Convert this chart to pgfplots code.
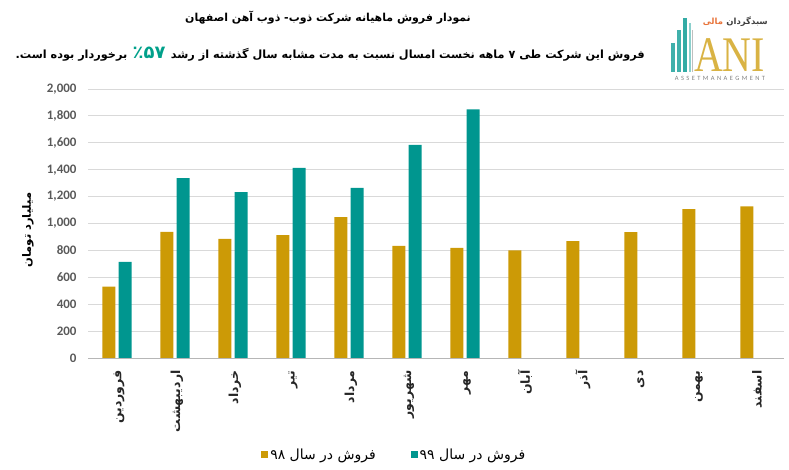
\documentclass[border=0pt]{standalone}
\usepackage{pgfplots}
\usepackage{pgfplotstable}
\pgfplotsset{compat=1.18}
\usepackage{fontspec}
\setmainfont{Carlito}
\TeXXeTstate=1
\newfontfamily\fa[Script=Arabic]{DejaVu Sans}
\newfontfamily\lserif{Liberation Serif}
\definecolor{gold}{HTML}{CC9A06}
\definecolor{teal99}{HTML}{00968F}
\definecolor{gridc}{HTML}{D9D9D9}
\definecolor{tickc}{HTML}{595959}
\definecolor{greenpct}{HTML}{00A08A}
\definecolor{logoor}{HTML}{E8743B}

\pgfplotstableread{
x y
0 530
1 937
2 885
3 914
4 1048
5 833
6 818
7 800
8 868
9 935
10 1106
11 1128
}\salesA

\pgfplotstableread{
x y
0 715
1 1338
2 1233
3 1413
4 1264
5 1584
6 1849
}\salesB

\begin{document}
\begin{tikzpicture}[x=1bp,y=1bp]
\path[use as bounding box] (0,0) rectangle (789,470);
\begin{axis}[
  at={(88bp,112bp)}, anchor=south west,
  scale only axis, width=696bp, height=269bp,
  xmin=-0.5, xmax=11.5, ymin=0, ymax=2000,
  ytick={0,200,...,2000},
  xtick={0,...,11},
  xticklabels={فروردین,اردیبهشت,خرداد,تیر,مرداد,شهریور,مهر,آبان,آذر,دی,بهمن,اسفند},
  ymajorgrids, grid style={gridc, line width=0.8bp},
  axis x line*=bottom, axis y line*=left,
  x axis line style={-, draw=gridc!80!black!90, line width=0.8bp},
  y axis line style={draw=none},
  major tick length=0pt, tick style={draw=none},
  /pgf/number format/1000 sep={,},
  /pgf/number format/assume math mode=true,
  yticklabel style={font=\fontsize{13}{15}\selectfont\bfseries, text=tickc, xshift=-8bp},
  xticklabel style={rotate=90, anchor=east, font=\fa\bfseries\fontsize{12.5}{14}\selectfont, text=black!85, xshift=-9bp, yshift=-2bp},
  legend style={at={(0.44,-0.36)}, anchor=center, draw=none, fill=none,
    legend columns=2, font=\fa\fontsize{14}{16}\selectfont,
    /tikz/every even column/.append style={column sep=33bp}},
]
\addplot[ybar, bar width=0.225, bar shift=-0.14, fill=gold, draw=none,
  legend image code/.code={\fill[gold] (0bp,-3.5bp) rectangle (7bp,3.5bp);}] table {\salesA};
\addlegendentry{\beginR فروش در سال ۹۸\endR}
\addplot[ybar, bar width=0.225, bar shift=0.14, fill=teal99, draw=none,
  legend image code/.code={\fill[teal99] (0bp,-3.5bp) rectangle (7bp,3.5bp);}] table {\salesB};
\addlegendentry{\beginR فروش در سال ۹۹\endR}
\end{axis}

% y label
\node[rotate=90, font=\fa\bfseries\fontsize{11.5}{13}\selectfont] at (28,240) {\beginR میلیارد تومان\endR};

% titles
\node[font=\fa\bfseries\fontsize{11}{13}\selectfont] at (328,452) {\beginR نمودار فروش ماهیانه شرکت ذوب- ذوب آهن  اصفهان\endR};
\node[anchor=base east, inner sep=0, font=\fa\bfseries\fontsize{11.3}{13}\selectfont] (tA) at (645,411) {\beginR فروش این شرکت طی ۷ ماهه نخست امسال نسبت به مدت مشابه سال گذشته از رشد\endR};
\node[anchor=base east, inner sep=0, text=greenpct, font=\fa\bfseries\fontsize{18}{20}\selectfont] (tB) at ([xshift=-5bp]tA.base west) {٪۵۷};
\node[anchor=base east, inner sep=0, font=\fa\bfseries\fontsize{11.3}{13}\selectfont] (tC) at ([xshift=-5bp]tB.base west) {\beginR برخوردار بوده است.\endR};

% logo
\fill[teal99!75] (671,398) rectangle (675,427);
\fill[teal99!75] (676.5,398) rectangle (681,440);
\fill[teal99!80] (682.5,398) rectangle (687,452);
\fill[teal99!45] (688.5,398) rectangle (691,447);
\fill[gray!50] (692,398) rectangle (693,440);
\node[anchor=base west, xscale=0.8, text=gold!75!white, font=\lserif\fontsize{50}{50}\selectfont, inner sep=0] at (694,398) {ANI};
\node[anchor=base east, inner sep=0, font=\fa\bfseries\fontsize{8.5}{9}\selectfont, text=black!75] (lg1) at (768,445) {سبدگردان};
\node[anchor=base east, inner sep=0, font=\fa\bfseries\fontsize{8.5}{9}\selectfont, text=logoor] at ([xshift=-3bp]lg1.base west) {مالی};
\node[anchor=north, text=gray, font=\fontsize{6.5}{7}\selectfont, inner sep=0] at (720,393.5) {A\hspace{2.4bp}S\hspace{2.4bp}S\hspace{2.4bp}E\hspace{2.4bp}T\hspace{2.4bp}M\hspace{2.4bp}A\hspace{2.4bp}N\hspace{2.4bp}A\hspace{2.4bp}E\hspace{2.4bp}G\hspace{2.4bp}M\hspace{2.4bp}E\hspace{2.4bp}N\hspace{2.4bp}T};
\end{tikzpicture}
\end{document}
